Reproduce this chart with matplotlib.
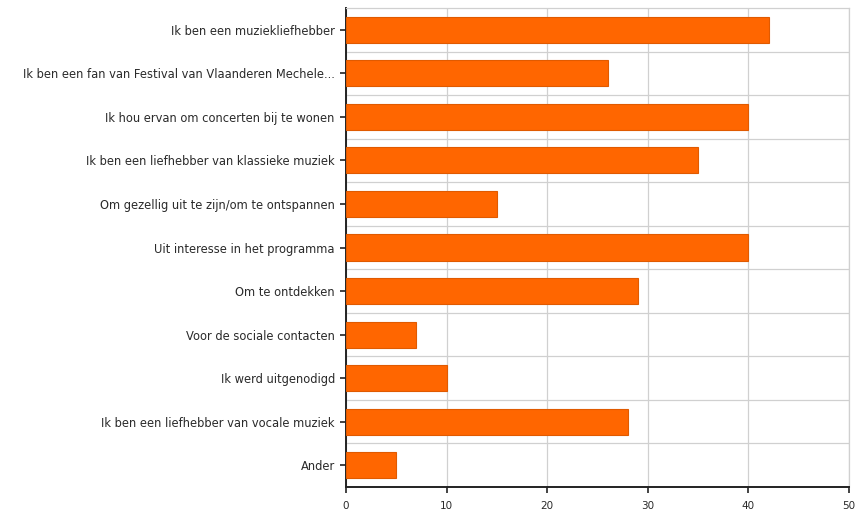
import numpy as np
import matplotlib.pyplot as plt

reasons = [
    "Ik ben een muziekliefhebber",
    "Ik ben een fan van Festival van Vlaanderen Mechele...",
    "Ik hou ervan om concerten bij te wonen",
    "Ik ben een liefhebber van klassieke muziek",
    "Om gezellig uit te zijn/om te ontspannen",
    "Uit interesse in het programma",
    "Om te ontdekken",
    "Voor de sociale contacten",
    "Ik werd uitgenodigd",
    "Ik ben een liefhebber van vocale muziek",
    "Ander",
]
counts = [42, 26, 40, 35, 15, 40, 29, 7, 10, 28, 5]
x_ticks = [0, 10, 20, 30, 40, 50]

plt.rcParams['font.family'] = ['DejaVu Sans']

fig = plt.figure(figsize=(8.68, 5.15), dpi=100)
ax = fig.add_axes([0.3986, 0.0544, 0.5795, 0.930])

pos = np.arange(len(reasons))
ax.barh(pos, counts, height=0.6, color='#ff6600', edgecolor='#e05a00',
        linewidth=0.8, zorder=3)

ax.set_ylim(len(reasons) - 0.5, -0.5)
ax.set_xlim(0, 50)
ax.set_xticks(x_ticks)
ax.set_yticks(pos)
ax.set_yticklabels(reasons)
# category separators
ax.set_yticks(np.arange(len(reasons) - 1) + 0.5, minor=True)
ax.tick_params(axis='y', which='minor', length=0)

ax.grid(True, axis='x', which='major', color='#d0d0d0', linewidth=0.9, zorder=0)
ax.grid(True, axis='y', which='minor', color='#d0d0d0', linewidth=0.9, zorder=0)

for side in ('top', 'right'):
    ax.spines[side].set_color('#d0d0d0')
    ax.spines[side].set_linewidth(0.9)
for side in ('left', 'bottom'):
    ax.spines[side].set_color('#222222')
    ax.spines[side].set_linewidth(1.4)

ax.tick_params(axis='both', which='major', length=4, width=1.2,
               color='#222222', labelcolor='#2a2a2a')
ax.tick_params(axis='y', labelsize=8.3, pad=4)
ax.tick_params(axis='x', labelsize=7.5, pad=6)

fig.savefig('out.png', dpi=100)
